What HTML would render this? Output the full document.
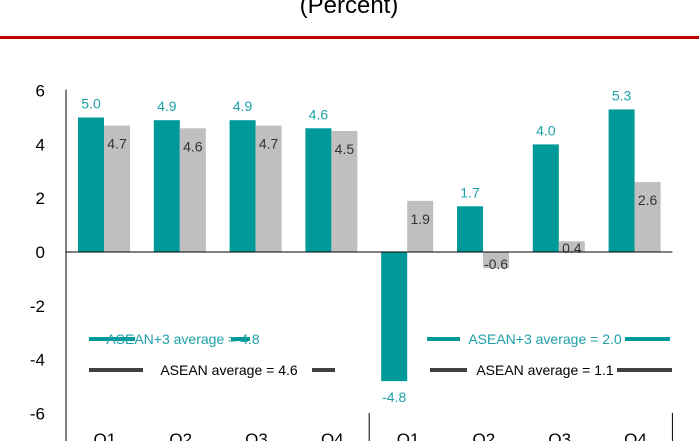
<!DOCTYPE html>
<html><head><meta charset="utf-8"><style>
body{margin:0;background:#fff;font-family:"Liberation Sans",sans-serif}
svg text{font-family:"Liberation Sans",sans-serif}
</style></head><body>
<svg id="c" width="699" height="441">
<text x="349" y="13" text-anchor="middle" font-size="24" fill="#000">(Percent)</text>
<rect x="0" y="36" width="699" height="3" fill="#c00000"/>
<g id="bars"></g>
<g id="axes"></g>
</svg>
<script>
const categories=["Q1","Q2","Q3","Q4","Q1","Q2","Q3","Q4"];
const asean3=[5.0,4.9,4.9,4.6,-4.8,1.7,4.0,5.3];
const asean=[4.7,4.6,4.7,4.5,1.9,-0.6,0.4,2.6];
const yTicks=[6,4,2,0,-2,-4,-6];
const avgLabels=["ASEAN+3 average = 4.8","ASEAN average = 4.6","ASEAN+3 average = 2.0","ASEAN average = 1.1"];
const NS="http://www.w3.org/2000/svg";
const y0=252,ppu=26.9,x0=66,cw=75.8,bw=26;
const y=v=>y0-v*ppu;
const cx=i=>x0+i*cw;
function mk(t,a,p){const e=document.createElementNS(NS,t);for(const k in a)e.setAttribute(k,a[k]);(p||document.getElementById('c')).appendChild(e);return e;}
const bars=document.getElementById('bars'),axes=document.getElementById('axes');
categories.forEach((c,i)=>{
 const xa=cx(i)+12,xb=xa+bw;
 const a=asean3[i],b=asean[i];
 let r=mk('rect',{x:xa,y:Math.min(y(a),y0),width:bw,height:Math.abs(y(a)-y0),fill:'#009999'},bars);
 
 
 r=mk('rect',{x:xb,y:Math.min(y(b),y0),width:bw,height:Math.abs(y(b)-y0),fill:'#bfbfbf'},bars);
 
 
 let t=mk('text',{x:xa+bw/2,y:a>=0?y(a)-9:y(a)+21,'text-anchor':'middle','font-size':14,fill:'#1fa0a8'},bars);
 t.textContent=a.toFixed(1);
 
 
 t=mk('text',{x:xb+bw/2,y:b>=1?y(b)+23:(b>=0?y(b)+12:y(b)+1),'text-anchor':'middle','font-size':14,fill:'#333'},bars);
 t.textContent=b.toFixed(1);
 
 
 const q=mk('text',{x:cx(i)+cw/2+1,y:445,'text-anchor':'middle','font-size':17,fill:'#000'},axes);
 q.textContent=c;
 
 
});
let l=mk('line',{x1:x0,x2:x0,y1:y(6)-1,y2:441,stroke:'#000','stroke-width':1},axes);

l=mk('line',{x1:x0,x2:cx(8),y1:y0,y2:y0,stroke:'#000','stroke-width':1},axes);

[4,8].forEach(k=>{const s=mk('line',{x1:cx(k),x2:cx(k),y1:413,y2:441,stroke:'#000','stroke-width':1},axes);

});
yTicks.forEach(v=>{const t=mk('text',{x:45,y:y(v)+6,'text-anchor':'end','font-size':17,fill:'#000'},axes);
t.textContent=v;

});
// average legends
const legs=[[89,135,231,250,339,'#009999','#1fa0a8',avgLabels[0],183],[89,143,312,335,370,'#404040','#000',avgLabels[1],229],
[427,460,625,670,339,'#009999','#1fa0a8',avgLabels[2],545],[430,467,617,672,370,'#404040','#000',avgLabels[3],545]];
legs.forEach((g,i)=>{
 mk('rect',{x:g[0],y:g[4]-2,width:g[1]-g[0],height:4,fill:g[5]},axes);
 mk('rect',{x:g[2],y:g[4]-2,width:g[3]-g[2],height:4,fill:g[5]},axes);
 const t=mk('text',{x:g[8],y:g[4]+5,'text-anchor':'middle','font-size':14,fill:g[6]},axes);
 t.textContent=g[7];
 
 
});
</script>
</body></html>
